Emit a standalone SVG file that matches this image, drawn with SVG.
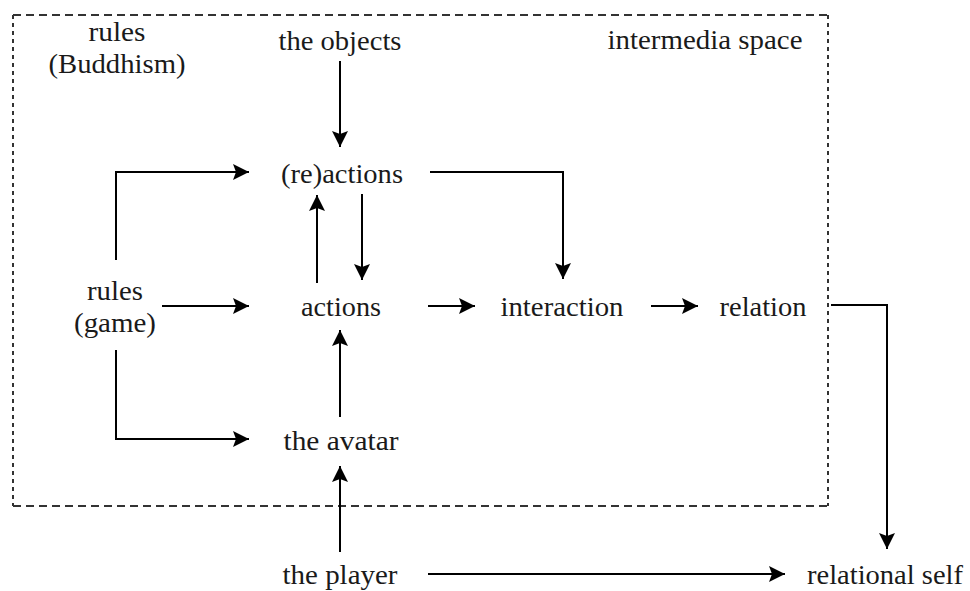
<svg xmlns="http://www.w3.org/2000/svg" width="970" height="591" viewBox="0 0 970 591">
<style>
  text { font-family: "Liberation Serif", "Times New Roman", serif; font-size: 28px; fill: #1a1a1a; text-anchor: middle; }
  .c { fill: none; stroke: #000; stroke-width: 2; marker-end: url(#ah); }
  .box { fill: none; stroke: #333; stroke-width: 2; }
</style>
<defs>
  <marker id="ah" markerUnits="userSpaceOnUse" markerWidth="18" markerHeight="18" refX="16" refY="8" orient="auto">
    <path d="M0,0 L16,8 L0,16 L3,8 z" fill="#000"/>
  </marker>
</defs>
<rect width="970" height="591" fill="#fff"/>
<g id="intermedia-space">
  <path class="box" d="M13,15 H828 M13,506 H828" stroke-dasharray="8 5"/>
  <path class="box" d="M13,15 V506 M828,15 V506" stroke-dasharray="4 4"/>
  <text x="705" y="49" textLength="195" lengthAdjust="spacingAndGlyphs">intermedia space</text>
</g>
<g id="rules-buddhism"><text x="117" y="41" textLength="57" lengthAdjust="spacingAndGlyphs">rules</text><text x="117" y="73" textLength="137" lengthAdjust="spacingAndGlyphs">(Buddhism)</text></g>
<g id="the-objects"><text x="340" y="50" textLength="123" lengthAdjust="spacingAndGlyphs">the objects</text></g>
<g id="reactions"><text x="342" y="183" textLength="122" lengthAdjust="spacingAndGlyphs">(re)actions</text></g>
<g id="rules-game"><text x="115" y="300" textLength="56" lengthAdjust="spacingAndGlyphs">rules</text><text x="115" y="332" textLength="82" lengthAdjust="spacingAndGlyphs">(game)</text></g>
<g id="actions"><text x="341" y="316" textLength="80" lengthAdjust="spacingAndGlyphs">actions</text></g>
<g id="interaction"><text x="562" y="316" textLength="123" lengthAdjust="spacingAndGlyphs">interaction</text></g>
<g id="relation"><text x="763" y="316" textLength="87" lengthAdjust="spacingAndGlyphs">relation</text></g>
<g id="the-avatar"><text x="341" y="450" textLength="115" lengthAdjust="spacingAndGlyphs">the avatar</text></g>
<g id="the-player"><text x="340" y="584" textLength="115" lengthAdjust="spacingAndGlyphs">the player</text></g>
<g id="relational-self"><text x="885" y="584" textLength="156" lengthAdjust="spacingAndGlyphs">relational self</text></g>
<g id="connectors">
  <path class="c" d="M340,61 V147"/>
  <path class="c" d="M116,260 V172 H249"/>
  <path class="c" d="M162,306 H249"/>
  <path class="c" d="M116,350 V439 H249"/>
  <path class="c" d="M317,283 V195"/>
  <path class="c" d="M362,194 V280"/>
  <path class="c" d="M340,417 V330"/>
  <path class="c" d="M340,552 V466"/>
  <path class="c" d="M428,306 H475"/>
  <path class="c" d="M651,306 H698"/>
  <path class="c" d="M430,172 H563 V279"/>
  <path class="c" d="M831,305 H887 V549"/>
  <path class="c" d="M428,574 H785"/>
</g>
</svg>
